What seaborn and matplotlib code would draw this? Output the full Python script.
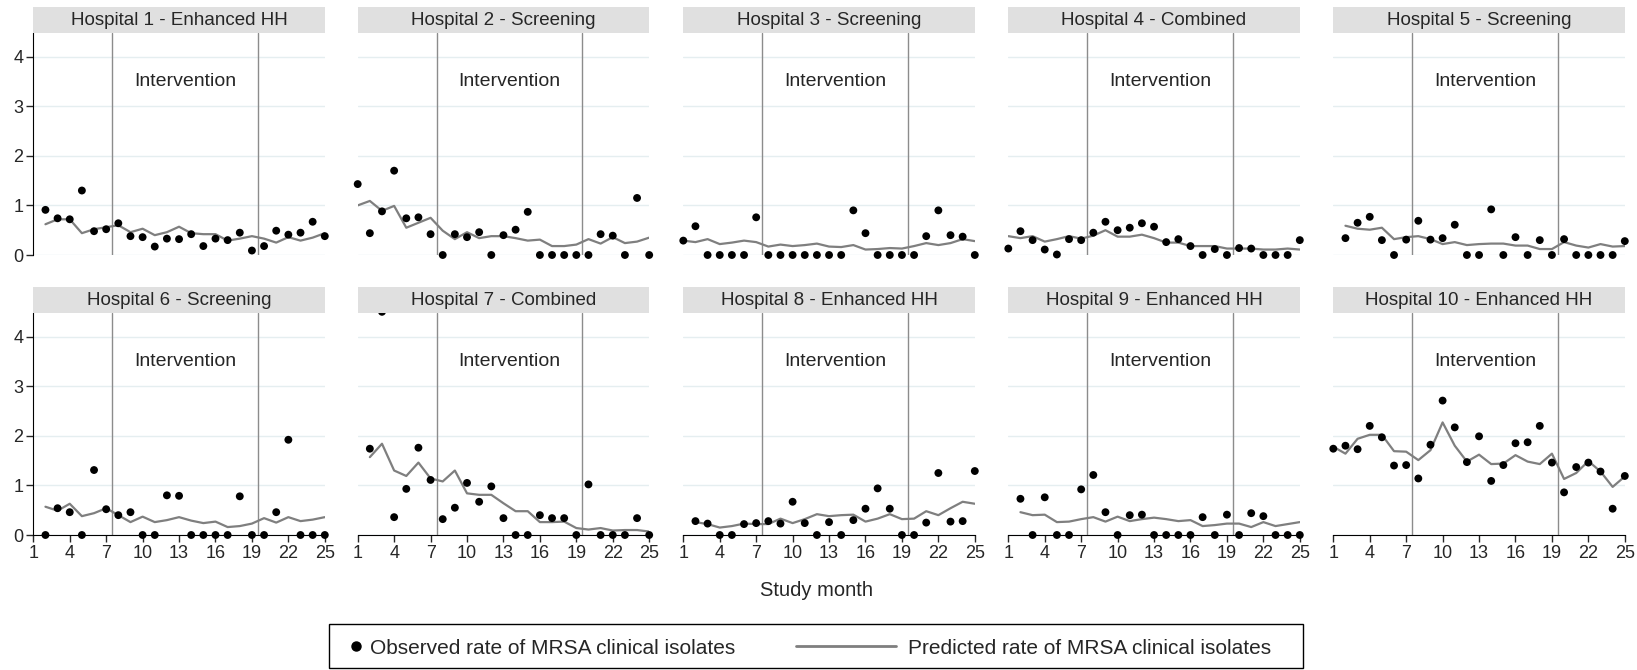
import numpy as np
import pandas as pd
import matplotlib.pyplot as plt
import seaborn as sns
from matplotlib.patches import Rectangle
from matplotlib.lines import Line2D

nan = np.nan

# Study months and panel titles
months = list(range(1, 26))
titles = ["Hospital 1 - Enhanced HH", "Hospital 2 - Screening", "Hospital 3 - Screening",
          "Hospital 4 - Combined", "Hospital 5 - Screening", "Hospital 6 - Screening",
          "Hospital 7 - Combined", "Hospital 8 - Enhanced HH", "Hospital 9 - Enhanced HH",
          "Hospital 10 - Enhanced HH"]

# Observed / predicted rates per hospital (month 1..25, nan = no data)
h1_obs = [nan, 0.91, 0.74, 0.72, 1.30, 0.48, 0.52, 0.64, 0.38, 0.36, 0.17, 0.33, 0.32,
          0.42, 0.18, 0.33, 0.30, 0.45, 0.09, 0.18, 0.49, 0.41, 0.45, 0.67, 0.38]
h1_pred = [nan, 0.62, 0.72, 0.72, 0.44, 0.52, 0.56, 0.60, 0.46, 0.53, 0.40, 0.46, 0.57,
           0.44, 0.42, 0.42, 0.29, 0.33, 0.38, 0.33, 0.25, 0.36, 0.29, 0.35, 0.44]
h2_obs = [1.43, 0.44, 0.88, 1.70, 0.74, 0.76, 0.42, 0, 0.42, 0.36, 0.46, 0, 0.40,
          0.51, 0.87, 0, 0, 0, 0, 0, 0.42, 0.39, 0, 1.15, 0]
h2_pred = [1.00, 1.09, 0.89, 0.99, 0.55, 0.65, 0.75, 0.49, 0.32, 0.46, 0.34, 0.38, 0.38,
           0.34, 0.29, 0.31, 0.18, 0.18, 0.21, 0.32, 0.23, 0.36, 0.24, 0.27, 0.35]
h3_obs = [0.29, 0.58, 0, 0, 0, 0, 0.76, 0, 0, 0, 0, 0, 0, 0, 0.90, 0.44, 0, 0, 0, 0,
          0.38, 0.90, 0.40, 0.37, 0]
h3_pred = [0.29, 0.26, 0.32, 0.22, 0.25, 0.29, 0.26, 0.17, 0.21, 0.18, 0.20, 0.23, 0.17,
           0.16, 0.20, 0.11, 0.12, 0.14, 0.13, 0.18, 0.24, 0.20, 0.24, 0.32, 0.28]
h4_obs = [0.13, 0.48, 0.30, 0.11, 0.01, 0.32, 0.30, 0.45, 0.67, 0.50, 0.55, 0.64, 0.57,
          0.26, 0.32, 0.18, 0, 0.12, 0, 0.14, 0.13, 0, 0, 0, 0.30]
h4_pred = [0.38, 0.34, 0.38, 0.27, 0.32, 0.38, 0.33, 0.39, 0.50, 0.37, 0.37, 0.41, 0.34,
           0.25, 0.25, 0.18, 0.18, 0.18, 0.13, 0.13, 0.13, 0.11, 0.11, 0.13, 0.11]
h5_obs = [nan, 0.34, 0.65, 0.77, 0.30, 0, 0.31, 0.69, 0.31, 0.34, 0.61, 0, 0, 0.92, 0,
          0.36, 0, 0.30, 0, 0.32, 0, 0, 0, 0, 0.28]
h5_pred = [nan, 0.59, 0.53, 0.51, 0.55, 0.32, 0.36, 0.38, 0.32, 0.22, 0.26, 0.20, 0.22,
           0.23, 0.23, 0.19, 0.19, 0.12, 0.12, 0.26, 0.19, 0.15, 0.22, 0.17, 0.18]
h6_obs = [nan, 0, 0.54, 0.46, 0, 1.31, 0.52, 0.40, 0.46, 0, 0, 0.80, 0.79, 0, 0, 0, 0,
          0.78, 0, 0, 0.46, 1.92, 0, 0, 0]
h6_pred = [nan, 0.57, 0.49, 0.63, 0.38, 0.44, 0.54, 0.40, 0.26, 0.37, 0.26, 0.30, 0.36,
           0.29, 0.24, 0.27, 0.16, 0.18, 0.23, 0.34, 0.25, 0.36, 0.28, 0.31, 0.36]
h7_obs = [nan, 1.74, 4.50, 0.36, 0.93, 1.76, 1.11, 0.32, 0.55, 1.05, 0.67, 0.98, 0.34,
          0, 0, 0.40, 0.34, 0.34, 0, 1.02, 0, 0, 0, 0.34, 0]
h7_pred = [nan, 1.57, 1.84, 1.30, 1.19, 1.46, 1.14, 1.08, 1.30, 0.84, 0.81, 0.81, 0.64,
           0.48, 0.48, 0.26, 0.26, 0.27, 0.14, 0.11, 0.14, 0.09, 0.10, 0.10, 0.07]
h8_obs = [nan, 0.28, 0.23, 0, 0, 0.22, 0.24, 0.28, 0.23, 0.67, 0.24, 0, 0.26, 0, 0.30,
          0.53, 0.94, 0.53, 0, 0, 0.25, 1.25, 0.27, 0.28, 1.29]
h8_pred = [nan, 0.26, 0.22, 0.15, 0.18, 0.23, 0.22, 0.22, 0.33, 0.24, 0.32, 0.42, 0.38,
           0.40, 0.41, 0.27, 0.33, 0.42, 0.32, 0.33, 0.48, 0.40, 0.54, 0.67, 0.63]
h9_obs = [nan, 0.73, 0, 0.76, 0, 0, 0.92, 1.21, 0.46, 0, 0.40, 0.41, 0, 0, 0, 0, 0.36,
          0, 0.41, 0, 0.44, 0.38, 0, 0, 0]
h9_pred = [nan, 0.46, 0.40, 0.41, 0.26, 0.27, 0.32, 0.36, 0.27, 0.37, 0.28, 0.32, 0.35,
           0.32, 0.28, 0.30, 0.18, 0.20, 0.23, 0.23, 0.16, 0.26, 0.18, 0.22, 0.26]
h10_obs = [1.74, 1.80, 1.73, 2.20, 1.97, 1.40, 1.41, 1.14, 1.82, 2.71, 2.17, 1.47, 1.99,
           1.09, 1.41, 1.85, 1.87, 2.20, 1.46, 0.86, 1.37, 1.46, 1.28, 0.53, 1.19]
h10_pred = [1.78, 1.64, 1.94, 2.02, 2.02, 1.69, 1.68, 1.51, 1.71, 2.27, 1.80, 1.48, 1.62,
            1.43, 1.44, 1.61, 1.48, 1.43, 1.64, 1.13, 1.25, 1.49, 1.28, 0.97, 1.18]

obs_all = [h1_obs, h2_obs, h3_obs, h4_obs, h5_obs, h6_obs, h7_obs, h8_obs, h9_obs, h10_obs]
pred_all = [h1_pred, h2_pred, h3_pred, h4_pred, h5_pred, h6_pred, h7_pred, h8_pred, h9_pred, h10_pred]

frames = []
for t, o, p in zip(titles, obs_all, pred_all):
    frames.append(pd.DataFrame({"hospital": t, "month": months, "obs": o, "pred": p}))
df = pd.concat(frames, ignore_index=True)

sns.set_style("white")
plt.rcParams["font.family"] = ["Liberation Sans", "DejaVu Sans"]

fig = plt.figure(figsize=(16.37, 6.70), dpi=100)

W, H = 1637, 670
lefts = [33.3, 357.7, 683.3, 1008.3, 1333.3]
bottoms = [1 - 255 / H, 1 - 535 / H]
aw, ah = 291.5 / W, 221.7 / H
strip_h = 26 / 221.7

for i, t in enumerate(titles):
    r, c = divmod(i, 5)
    ax = fig.add_axes([lefts[c] / W, bottoms[r], aw, ah])
    d = df[df["hospital"] == t]

    sns.lineplot(data=d, x="month", y="pred", ax=ax, color="#7f7f7f", lw=1.6,
                 estimator=None, zorder=3)
    sns.scatterplot(data=d, x="month", y="obs", ax=ax, color="black", s=32,
                    edgecolor="none", clip_on=False, zorder=4)

    ax.set_xlim(1, 25)
    ax.set_ylim(0, 4.47)
    ax.set_yticks([0, 1, 2, 3, 4])
    ax.set_xticks(range(1, 26, 3))
    ax.grid(axis="y", color="#e5eef0", lw=1)
    ax.grid(axis="x", visible=False)
    ax.set_xlabel("")
    ax.set_ylabel("")

    for x in [7.5, 19.5]:
        ax.axvline(x, color="#8c8c8c", lw=1, zorder=2)
    ax.text(13.5, 3.5, "Intervention", ha="center", va="center", fontsize=14)

    for s in ax.spines.values():
        s.set_visible(False)

    if c == 0:
        ax.spines["left"].set_visible(True)
        ax.spines["left"].set_color("black")
        ax.tick_params(axis="y", left=True, length=5, width=1, labelsize=13, pad=2)
    else:
        ax.tick_params(axis="y", left=False, labelleft=False)

    if r == 1:
        ax.spines["bottom"].set_visible(True)
        ax.spines["bottom"].set_color("black")
        ax.tick_params(axis="x", bottom=True, length=5, width=1, labelsize=13, pad=2)
    else:
        ax.tick_params(axis="x", bottom=False, labelbottom=False)

    # strip header
    ax.add_patch(Rectangle((0, 1), 1, strip_h, transform=ax.transAxes,
                           facecolor="#e0e0e0", edgecolor="none", clip_on=False, zorder=10))
    ax.text(0.5, 1 + strip_h / 2, t, transform=ax.transAxes, ha="center", va="center",
            fontsize=13.5, zorder=11)

fig.text(816 / W, 1 - 591 / H, "Study month", ha="center", va="center", fontsize=14.5)

# legend box
fig.patches.append(Rectangle((329 / W, 2 / H), (1303 - 329) / W, (668 - 624) / H,
                             transform=fig.transFigure, facecolor="white",
                             edgecolor="black", lw=1))
dot = Line2D([], [], color="black", marker="o", linestyle="none", markersize=6.5)
line = Line2D([], [], color="#7f7f7f", lw=2)
leg1 = fig.legend([dot], ["Observed rate of MRSA clinical isolates"], loc="center left",
                  bbox_to_anchor=(349 / W, 1 - 648 / H), frameon=False, borderpad=0,
                  borderaxespad=0, handlelength=0.7, handletextpad=0.3, fontsize=15)
leg2 = fig.legend([line], ["Predicted rate of MRSA clinical isolates"], loc="center left",
                  bbox_to_anchor=(796 / W, 1 - 648 / H), frameon=False, borderpad=0,
                  borderaxespad=0, handlelength=4.8, handletextpad=0.6, fontsize=15)

fig.savefig("out.png", dpi=100)
